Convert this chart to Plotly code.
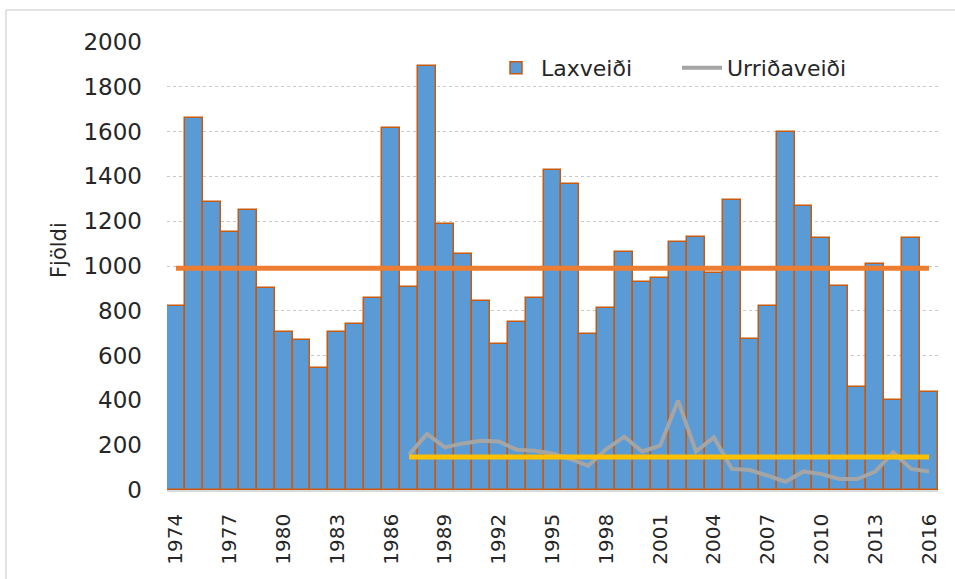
import plotly.graph_objects as go

# ---- data ----
years = list(range(1974, 2017))
laxveidi = [820, 1660, 1284, 1152, 1249, 900, 704, 668, 543, 704, 740, 856, 1615, 908,
            1893, 1186, 1052, 845, 652, 748, 859, 1429, 1366, 695, 814, 1062, 927, 946,
            1107, 1131, 970, 1295, 676, 820, 1598, 1268, 1125, 909, 461, 1009, 402, 1125, 436]
urr_years = list(range(1987, 2017))
urridaveidi = [158, 250, 190, 208, 220, 217, 180, 175, 163, 138, 108, 183, 238, 172, 198,
               399, 172, 235, 94, 89, 64, 37, 83, 71, 49, 49, 82, 168, 94, 83]
mean_lax = 990
mean_urr = 147
tick_years = list(range(1974, 2017, 3))
y_ticks = list(range(0, 2001, 200))

FONT = "DejaVu Sans"
TXT = "#262626"

fig = go.Figure()
fig.add_trace(go.Bar(
    x=years, y=laxveidi, name="Laxveiði",
    marker=dict(color="#5B9BD5", line=dict(color="#C55A11", width=1.5)),
))
fig.add_trace(go.Scatter(
    x=urr_years, y=urridaveidi, name="Urriðaveiði", mode="lines",
    line=dict(color="#A5A5A5", width=4),
))
fig.add_trace(go.Scatter(
    x=years, y=[mean_lax] * len(years), mode="lines", showlegend=False,
    line=dict(color="#ED7D31", width=5),
))
fig.add_trace(go.Scatter(
    x=urr_years, y=[mean_urr] * len(urr_years), mode="lines", showlegend=False,
    line=dict(color="#FFC000", width=5),
))

W, H = 955, 579
L, R, T, B = 167, 17, 42, 89
pw = W - L - R
ph = H - T - B

def px_x(p):
    return (p - L) / pw

def px_y(p):
    return (H - B - p) / ph

fig.update_layout(
    template="none",
    width=W, height=H,
    margin=dict(l=L, r=R, t=T, b=B, pad=0, autoexpand=False),
    paper_bgcolor="white", plot_bgcolor="white",
    bargap=0,
    font=dict(family=FONT, color=TXT, size=21),
    showlegend=True,
    legend=dict(
        orientation="h", x=px_x(491), y=px_y(68), xanchor="left", yanchor="middle",
        font=dict(size=22, family=FONT, color=TXT), bgcolor="rgba(0,0,0,0)",
        itemwidth=40, entrywidth=131, traceorder="normal",
    ),
    xaxis=dict(
        range=[1973.5, 2016.5], tickmode="array", tickvals=tick_years,
        ticktext=[str(v) for v in tick_years], tickangle=-90,
        tickfont=dict(size=20, family=FONT, color=TXT), automargin=False,
        showgrid=False, zeroline=False, showline=True, linecolor="#D9D9D9", linewidth=1.5,
        ticks="", ticklabelstandoff=14,
    ),
    yaxis=dict(
        range=[0, 2000], tickmode="array", tickvals=y_ticks, automargin=False,
        tickfont=dict(size=23, family=FONT, color=TXT),
        showgrid=True, gridcolor="#C8C8C8", gridwidth=1, griddash="dot",
        zeroline=False, showline=False, ticks="", ticklabelstandoff=24,
    ),
    annotations=[dict(
        text="Fjöldi", xref="paper", yref="paper", x=px_x(59), y=px_y(250),
        textangle=-90, showarrow=False, xanchor="center", yanchor="middle",
        font=dict(size=21, family=FONT, color=TXT),
    )],
    shapes=[
        dict(type="line", xref="paper", yref="paper", x0=px_x(6), x1=px_x(6),
             y0=px_y(10), y1=px_y(600), line=dict(color="#D9D9D9", width=1.5)),
        dict(type="line", xref="paper", yref="paper", x0=px_x(6), x1=px_x(970),
             y0=px_y(10), y1=px_y(10), line=dict(color="#D9D9D9", width=1.5)),
    ],
)

fig.write_html("out.html", config={"displayModeBar": False},
               post_script="document.body.style.margin='0';")
